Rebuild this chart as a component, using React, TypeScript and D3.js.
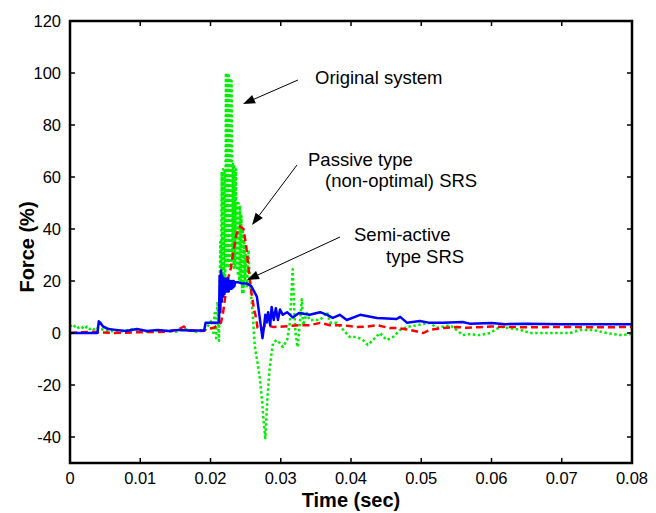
import React from "react";
import * as d3 from "d3";

const xTicks = [0, 0.01, 0.02, 0.03, 0.04, 0.05, 0.06, 0.07, 0.08];
const yTicks = [-40, -20, 0, 20, 40, 60, 80, 100, 120];

const originalT = [0, 0.0004, 0.0008, 0.0012, 0.0016, 0.002, 0.0024, 0.0028, 0.0032, 0.0036, 0.004, 0.005, 0.007, 0.009, 0.011, 0.013, 0.015, 0.0165, 0.018, 0.0192, 0.0197, 0.0202, 0.0204, 0.0206, 0.0208, 0.021, 0.0212, 0.0214, 0.0215, 0.0216, 0.0217, 0.0218, 0.0219, 0.022, 0.0221, 0.0222, 0.0223, 0.0224, 0.0225, 0.0226, 0.0227, 0.0228, 0.0229, 0.023, 0.0231, 0.0232, 0.0233, 0.0234, 0.0235, 0.0236, 0.0237, 0.0238, 0.0239, 0.024, 0.0241, 0.0242, 0.0243, 0.0244, 0.0245, 0.0246, 0.0247, 0.0248, 0.0249, 0.025, 0.0252, 0.0254, 0.0256, 0.0258, 0.026, 0.0263, 0.0267, 0.027, 0.0273, 0.0276, 0.0278, 0.0281, 0.0284, 0.0287, 0.0289, 0.0294, 0.0299, 0.0303, 0.0309, 0.0313, 0.0317, 0.0319, 0.0321, 0.0324, 0.0327, 0.033, 0.0332, 0.0337, 0.0341, 0.0346, 0.0356, 0.0366, 0.037, 0.038, 0.0389, 0.0398, 0.0408, 0.0417, 0.0424, 0.0431, 0.0441, 0.0451, 0.046, 0.047, 0.048, 0.0494, 0.0512, 0.0522, 0.0541, 0.055, 0.0559, 0.0569, 0.0583, 0.0598, 0.0612, 0.0626, 0.0641, 0.0655, 0.0674, 0.0693, 0.0712, 0.0726, 0.0744, 0.0764, 0.0783, 0.0797, 0.08];
const originalV = [3, 2, 3, 2, 2.5, 1.5, 2.5, 1.5, 2, 1, 2, 1, 0.5, 1.5, 0.5, 1, 0.5, 1.5, 0.5, 1, 3, 5, 0, 7.7, -2, 12, -3, 35, 15, 62, 18, 63, 20, 63, 22, 100, 25, 100, 25, 99, 25, 98, 25, 97, 28, 65, 25, 64, 25, 63, 25, 50, 22, 50, 20, 49, 20, 45, 15, 40, 15, 35, 20, 30, 18, 32, 20, 14, 7.7, -5, -11.6, -17, -25, -35, -40.5, -25, -14, -7.7, -3.9, -2.7, -4, -5.4, -2.7, 3.9, 24.5, 10, 0, -5.4, 3, 13, 3, 7.7, 5, 5, 5, 8, 4, 3.9, 1.2, -1.5, -1.5, -2.7, -4.6, -2.7, 0, -2.7, -1.5, 1.2, 2.3, 3, 3.9, 2, 3, 1.2, -0.8, -0.5, -0.8, 0, 2.3, 1.9, 1.2, 0, 0, 0, 0, 1.2, 1.2, 0, -0.8, -0.5, 1.2];

const passiveT = [0, 0.003, 0.006, 0.01, 0.014, 0.0155, 0.0162, 0.0168, 0.019, 0.0195, 0.0205, 0.021, 0.0215, 0.0218, 0.0221, 0.0224, 0.0229, 0.0233, 0.0237, 0.0242, 0.0247, 0.0251, 0.0254, 0.0258, 0.0262, 0.0264, 0.0267, 0.0272, 0.0278, 0.029, 0.0303, 0.0327, 0.0341, 0.0356, 0.037, 0.0388, 0.0408, 0.0423, 0.0437, 0.0455, 0.0465, 0.0484, 0.0503, 0.0512, 0.0531, 0.055, 0.0565, 0.06, 0.065, 0.07, 0.075, 0.08];
const passiveV = [0, 0.5, 0, 0.3, 0.5, 1.5, 2.5, 1, 0.8, 1.5, 2, 3, 4, 8, 14, 20, 25, 32, 38, 41, 40, 33, 25, 16, 9, 7, 2, 1, 3, 2.3, 2.5, 3, 3, 3.9, 3, 3, 2.3, 2.5, 3, 1.9, 1.9, 1.2, 0, 1.2, 1.9, 2.3, 2, 2.5, 2.2, 2.3, 2.2, 2.3];

const semiT = [0, 0.0039, 0.0041, 0.0043, 0.0047, 0.0055, 0.0065, 0.008, 0.0095, 0.011, 0.0125, 0.014, 0.0155, 0.017, 0.0185, 0.0191, 0.0193, 0.0205, 0.0212, 0.0213, 0.0214, 0.0215, 0.0216, 0.0217, 0.0218, 0.0219, 0.022, 0.0221, 0.0222, 0.0223, 0.0224, 0.0225, 0.0226, 0.0227, 0.0228, 0.0229, 0.023, 0.0231, 0.0232, 0.0233, 0.0234, 0.0235, 0.024, 0.0245, 0.0252, 0.0258, 0.0262, 0.0266, 0.0268, 0.0271, 0.0274, 0.0276, 0.0278, 0.028, 0.0282, 0.0285, 0.0287, 0.029, 0.0293, 0.0296, 0.0299, 0.0303, 0.0309, 0.0317, 0.0326, 0.0341, 0.0356, 0.0366, 0.0374, 0.0384, 0.0394, 0.0413, 0.0437, 0.0465, 0.047, 0.048, 0.0498, 0.0512, 0.0531, 0.0559, 0.0569, 0.06, 0.062, 0.065, 0.07, 0.075, 0.08];
const semiV = [0, 0, 4.5, 4, 2.5, 1.5, 1.2, 0.8, 1.5, 0.8, 1.2, 0.8, 1.2, 1, 1, 1, 3.9, 3.9, 4, 22, 8, 24, 12, 22, 14, 21, 15, 21, 16, 21, 16, 21, 16, 20, 17, 20, 17, 20, 17.5, 20, 18, 19.5, 19.5, 19, 19, 18, 16, 14, 10, 4, -2, 2, 7, 4, 8, 3, 10, 5, 9.5, 5, 9, 7, 8, 6, 7.7, 7, 8, 7, 5.8, 7, 5, 7, 5.8, 5.4, 6.2, 3.9, 4.6, 3.9, 3.9, 4.2, 3.6, 3.8, 3.4, 3.6, 3.4, 3.4, 3.4];

const W = 656;
const H = 513;
const left = 70;
const right = 632;
const top = 21;
const bottom = 463;
const FONT = "Arial, 'Liberation Sans', Helvetica, sans-serif";

export default function App() {
  const x = d3.scaleLinear().domain([0, 0.08]).range([left, right]);
  const y = d3.scaleLinear().domain([-50, 120]).range([bottom, top]);
  const line = d3
    .line<[number, number]>()
    .x((d) => x(d[0]))
    .y((d) => y(d[1]));
  const mk = (t: number[], v: number[]) => t.map((tt, i) => [tt, v[i]] as [number, number]);
  const tickLen = 5;

  const arrow = (x1: number, y1: number, x2: number, y2: number, key: string) => {
    const ang = Math.atan2(y2 - y1, x2 - x1);
    const L = 12;
    const w = 4.5;
    const bx = x2 - L * Math.cos(ang);
    const by = y2 - L * Math.sin(ang);
    const px = -Math.sin(ang) * w;
    const py = Math.cos(ang) * w;
    return (
      <g key={key}>
        <line x1={x1} y1={y1} x2={bx} y2={by} stroke="#000" strokeWidth={1} />
        <polygon points={`${x2},${y2} ${bx + px},${by + py} ${bx - px},${by - py}`} fill="#000" />
      </g>
    );
  };

  return (
    <svg
      width={W}
      height={H}
      style={{ position: "absolute", left: 0, top: 0, background: "#fff" }}
      fontFamily={FONT}
    >
      <rect x={0} y={0} width={W} height={H} fill="#fff" />
      <defs>
        <clipPath id="plot">
          <rect x={left} y={top} width={right - left} height={bottom - top} />
        </clipPath>
      </defs>
      <g clipPath="url(#plot)" fill="none" strokeLinejoin="round">
        <path d={line(mk(originalT, originalV)) || ""} stroke="#00ee00" strokeWidth={2.5} strokeDasharray="2.5,2.5" />
        <path d={line(mk(passiveT, passiveV)) || ""} stroke="#ff0000" strokeWidth={2.5} strokeDasharray="7,4" />
        <path d={line(mk(semiT, semiV)) || ""} stroke="#0000ff" strokeWidth={2.5} />
      </g>
      {/* ticks */}
      <g stroke="#000" strokeWidth={1.5}>
        {xTicks.map((t) => (
          <g key={"xt" + t}>
            <line x1={x(t)} x2={x(t)} y1={bottom} y2={bottom - tickLen} />
            <line x1={x(t)} x2={x(t)} y1={top} y2={top + tickLen} />
          </g>
        ))}
        {yTicks.map((v) => (
          <g key={"yt" + v}>
            <line x1={left} x2={left + tickLen} y1={y(v)} y2={y(v)} />
            <line x1={right} x2={right - tickLen} y1={y(v)} y2={y(v)} />
          </g>
        ))}
      </g>
      <rect x={left} y={top} width={right - left} height={bottom - top} fill="none" stroke="#000" strokeWidth={2.5} />
      {/* tick labels */}
      <g fontSize={16.5} fill="#000">
        {xTicks.map((t) => (
          <text key={"xl" + t} x={x(t)} y={bottom + 21} textAnchor="middle">
            {String(t)}
          </text>
        ))}
        {yTicks.map((v) => (
          <text key={"yl" + v} x={left - 9} y={y(v) + 6} textAnchor="end">
            {String(v)}
          </text>
        ))}
      </g>
      <text x={(left + right) / 2} y={507} textAnchor="middle" fontSize={20} fontWeight="bold">
        Time (sec)
      </text>
      <text
        transform={`translate(34, ${(top + bottom) / 2 + 5}) rotate(-90)`}
        textAnchor="middle"
        fontSize={20}
        fontWeight="bold"
      >
        Force (%)
      </text>
      {/* annotations */}
      <g fontSize={18.5} fill="#000">
        <text x={315} y={84}>Original system</text>
        <text x={308} y={166}>Passive type</text>
        <text x={325} y={187}>(non-optimal) SRS</text>
        <text x={354} y={241}>Semi-active</text>
        <text x={386} y={263}>type SRS</text>
      </g>
      {arrow(298, 80, 243, 104, "a1")}
      {arrow(297, 165, 252, 225, "a2")}
      {arrow(340, 237, 247, 280, "a3")}
    </svg>
  );
}
